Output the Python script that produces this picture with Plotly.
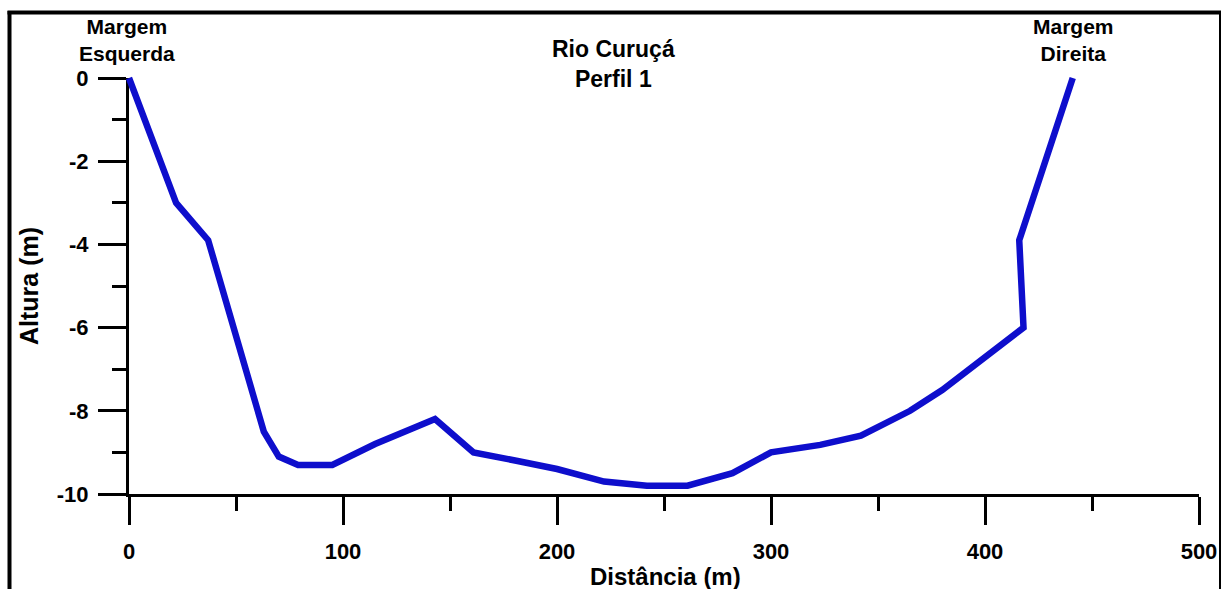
import plotly.graph_objects as go

# ---- data ----
distancia = [0, 22, 37, 63, 70, 79, 95, 115, 143, 161, 181, 200, 222, 242, 261,
             282, 300, 323, 342, 365, 380, 398, 418, 416, 441]
altura = [0, -3.0, -3.9, -8.5, -9.1, -9.3, -9.3, -8.8, -8.2, -9.0, -9.2, -9.4, -9.7,
          -9.8, -9.8, -9.5, -9.0, -8.82, -8.6, -8.0, -7.5, -6.8, -6.0, -3.9, 0]
x_ticks = [0, 100, 200, 300, 400, 500]
x_ticklabels = ["0", "100", "200", "300", "400", "500"]
y_ticks = [0, -2, -4, -6, -8, -10]
y_ticklabels = ["0", "-2", "-4", "-6", "-8", "-10"]
titulo = "Rio Curuçá<br>Perfil 1"
margem_esq = "Margem<br>Esquerda"
margem_dir = "Margem<br>Direita"
x_title = "Distância (m)"
y_title = "Altura (m)"

# ---- layout geometry (pixels) ----
W, H = 1223, 589
ML, MR, MT, MB = 119, 14, 68, 85
PAD = 10  # extra room so the thick line is not clipped at the axis edges
pw, ph = W - ML - MR, H - MT - MB

def px2x(px):
    return (px - ML) / pw

def px2y(py):
    return (H - MB - py) / ph

xr = [0, 500]
yr = [-10, 0]
inner_w = pw - 2 * PAD
inner_h = ph - 2 * PAD
dx = PAD * (xr[1] - xr[0]) / inner_w
dy = PAD * (yr[1] - yr[0]) / inner_h

FONT = "Arial, Liberation Sans, sans-serif"
blue = "#0E0ECC"

fig = go.Figure()
# invisible copy on the visible axes so that the tick/axis frame is drawn
fig.add_trace(go.Scatter(
    x=distancia, y=altura, mode="lines", opacity=0,
    line=dict(color=blue, width=1), xaxis="x", yaxis="y",
    showlegend=False, hoverinfo="skip",
))
fig.add_trace(go.Scatter(
    x=distancia, y=altura, mode="lines",
    line=dict(color=blue, width=6.5),
    xaxis="x2", yaxis="y2", showlegend=False, hoverinfo="x+y",
))

axis_common = dict(
    showline=True, linecolor="black", linewidth=3,
    ticks="outside", ticklen=28, tickwidth=3, tickcolor="black",
    showgrid=False, zeroline=False, automargin=False,
    tickfont=dict(family=FONT, size=22, color="black", weight="bold"),
)

fig.update_layout(
    width=W, height=H, autosize=False,
    margin=dict(l=ML, r=MR, t=MT, b=MB),
    paper_bgcolor="white", plot_bgcolor="rgba(0,0,0,0)",
    showlegend=False,
    xaxis=dict(
        domain=[PAD / pw, 1 - PAD / pw], range=xr, anchor="y",
        tickvals=x_ticks, ticktext=x_ticklabels, ticklabelstandoff=8,
        minor=dict(dtick=50, ticklen=14, tickwidth=3, tickcolor="black", ticks="outside"),
        **axis_common,
    ),
    yaxis=dict(
        domain=[PAD / ph, 1 - PAD / ph], range=yr, anchor="x",
        tickvals=y_ticks, ticktext=y_ticklabels, ticklabelstandoff=5,
        minor=dict(dtick=1, ticklen=14, tickwidth=3, tickcolor="black", ticks="outside"),
        **axis_common,
    ),
    xaxis2=dict(domain=[0, 1], range=[xr[0] - dx, xr[1] + dx], anchor="y2",
                visible=False, automargin=False),
    yaxis2=dict(domain=[0, 1], range=[yr[0] - dy, yr[1] + dy], anchor="x2",
                visible=False, automargin=False),
)

fig.add_annotation(text=titulo, xref="paper", yref="paper", x=px2x(613), y=px2y(64),
                   showarrow=False, xanchor="center", yanchor="middle",
                   font=dict(family=FONT, size=23, color="black", weight="bold"))
fig.add_annotation(text=margem_esq, xref="paper", yref="paper", x=px2x(127), y=px2y(40),
                   showarrow=False, xanchor="center", yanchor="middle",
                   font=dict(family=FONT, size=21, color="black", weight="bold"))
fig.add_annotation(text=margem_dir, xref="paper", yref="paper", x=px2x(1073), y=px2y(40),
                   showarrow=False, xanchor="center", yanchor="middle",
                   font=dict(family=FONT, size=21, color="black", weight="bold"))
fig.add_annotation(text=x_title, xref="paper", yref="paper", x=px2x(665), y=px2y(576),
                   showarrow=False, xanchor="center", yanchor="middle",
                   font=dict(family=FONT, size=24, color="black", weight="bold"))
fig.add_annotation(text=y_title, xref="paper", yref="paper", x=px2x(29), y=px2y(286),
                   showarrow=False, xanchor="center", yanchor="middle", textangle=-90,
                   font=dict(family=FONT, size=25, color="black", weight="bold"))

# outer frame
fig.add_shape(type="line", xref="paper", yref="paper",
              x0=px2x(9.5), x1=px2x(9.5), y0=px2y(11), y1=px2y(600),
              line=dict(color="black", width=4))
fig.add_shape(type="line", xref="paper", yref="paper",
              x0=px2x(7.5), x1=px2x(1221), y0=px2y(12.5), y1=px2y(12.5),
              line=dict(color="black", width=4))
fig.add_shape(type="line", xref="paper", yref="paper",
              x0=px2x(1220), x1=px2x(1220), y0=px2y(11), y1=px2y(600),
              line=dict(color="black", width=2))

# the page's default body margin would shift the figure by 8 px
fig.write_html(
    "out.html",
    config={"displayModeBar": False, "responsive": False},
    post_script="document.body.style.margin='0';document.body.style.overflow='hidden';",
)
